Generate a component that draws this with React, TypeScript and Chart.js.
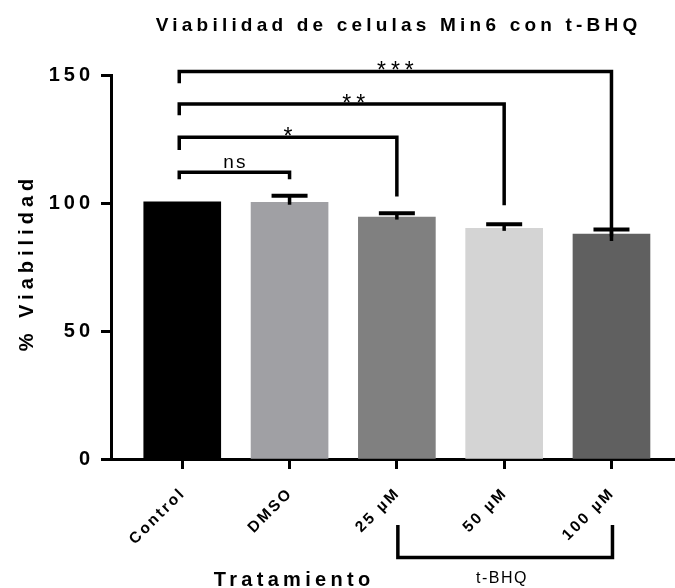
import React, { useEffect, useRef } from 'react';
import { Chart, registerables } from 'chart.js';

Chart.register(...registerables);

// ---------- data ----------
const categories = ['Control', 'DMSO', '25 µM', '50 µM', '100 µM'];
const viability = [100.5, 100.3, 94.5, 90.1, 87.9];
const viabilitySD = [0, 2.5, 1.5, 1.6, 1.7];
const yTicks = [0, 50, 100, 150];
const barColors = ['#000000', '#A0A0A4', '#808080', '#D4D4D4', '#606060'];

// significance comparisons (vs Control)
const compFrom = [0, 0, 0, 0];
const compTo = [1, 2, 3, 4];
const compLevel = [112.0, 125.7, 138.7, 151.4];
const compLeftEnd = [109.3, 120.7, 134.3, 146.8];
const compRightEnd = [109.3, 102.5, 99.1, 85.2];
const compLabel = ['ns', '*', '**', '***'];

// group bracket under the axis
const groupFrom = 2;
const groupTo = 4;
const groupLabel = 't-BHQ';

const titleText = 'Viabilidad de celulas Min6 con t-BHQ';
const yTitleText = '% Viabilidad';
const xTitleText = 'Tratamiento';

// ---------- styles ----------
const FONT = '"Liberation Sans", Arial, Helvetica, sans-serif';
const labelNudge = [0, 0, 12, 0];
const hasLS = typeof CanvasRenderingContext2D !== 'undefined' &&
  'letterSpacing' in CanvasRenderingContext2D.prototype;

function spacedText(ctx: any, text: string, x: number, y: number, spacing: number, align: 'left' | 'center' | 'right') {
  ctx.save();
  if (hasLS) ctx.letterSpacing = spacing + 'px';
  ctx.textAlign = 'left';
  const w = ctx.measureText(text).width - (hasLS ? spacing : 0);
  const sx = align === 'left' ? x : align === 'center' ? x - w / 2 : x - w;
  ctx.fillText(text, sx, y);
  ctx.restore();
}

const tickSpacingPlugin = {
  id: 'tickSpacing',
  beforeDraw(chart: any) {
    const specs: any = { x: 2.5, y: 4 };
    for (const id of ['x', 'y']) {
      const s: any = chart.scales[id];
      if (s && !s.__patched) {
        const orig = s.drawLabels;
        s.drawLabels = function (area: any) {
          const c: any = this.ctx;
          c.save();
          if (hasLS) c.letterSpacing = specs[id] + 'px';
          orig.call(this, area);
          c.restore();
        };
        s.__patched = true;
      }
    }
  },
};

const annotationPlugin = {
  id: 'annotations',
  afterDraw(chart: any) {
    const { ctx, chartArea } = chart;
    const xs = chart.scales.x;
    const ys = chart.scales.y;
    ctx.save();
    ctx.strokeStyle = '#000';
    ctx.fillStyle = '#000';
    ctx.lineCap = 'butt';
    ctx.lineJoin = 'miter';

    // error bars (upper)
    viability.forEach((v, i) => {
      const sd = viabilitySD[i];
      if (!sd) return;
      const px = xs.getPixelForValue(i);
      const top = ys.getPixelForValue(v + sd);
      const base = ys.getPixelForValue(v) + 2.5;
      ctx.lineWidth = 3.5;
      ctx.beginPath();
      ctx.moveTo(px, base);
      ctx.lineTo(px, top);
      ctx.stroke();
      ctx.lineWidth = 4;
      ctx.beginPath();
      ctx.moveTo(px - 18, top);
      ctx.lineTo(px + 18, top);
      ctx.stroke();
    });

    // significance brackets
    compLabel.forEach((lab, k) => {
      const lx = xs.getPixelForValue(compFrom[k]) - 3;
      const rx = xs.getPixelForValue(compTo[k]);
      const ly = ys.getPixelForValue(compLevel[k]);
      ctx.lineWidth = 3.5;
      ctx.beginPath();
      ctx.moveTo(lx, ys.getPixelForValue(compLeftEnd[k]));
      ctx.lineTo(lx, ly);
      ctx.lineTo(rx, ly);
      ctx.lineTo(rx, ys.getPixelForValue(compRightEnd[k]));
      ctx.stroke();

      const isStar = lab.indexOf('*') >= 0;
      ctx.font = `normal ${isStar ? 23 : 19}px ${FONT}`;
      ctx.textBaseline = 'alphabetic';
      const m = ctx.measureText(lab);
      const inkBottom = isStar ? ly - 1 : ly - 4;
      const baseline = inkBottom - m.actualBoundingBoxDescent;
      spacedText(ctx, lab, (lx + rx) / 2 + labelNudge[k], baseline, isStar ? 5 : 2, 'center');
    });

    // group bracket below axis
    const gx1 = xs.getPixelForValue(groupFrom) + 1;
    const gx2 = xs.getPixelForValue(groupTo) + 1;
    ctx.lineWidth = 3.5;
    ctx.beginPath();
    ctx.moveTo(gx1, 525);
    ctx.lineTo(gx1, 557.5);
    ctx.lineTo(gx2, 557.5);
    ctx.lineTo(gx2, 525);
    ctx.stroke();
    ctx.font = `normal 16px ${FONT}`;
    ctx.textBaseline = 'alphabetic';
    spacedText(ctx, groupLabel, (gx1 + gx2) / 2 - 4, 583, 1.5, 'center');

    // title
    ctx.font = `bold 19px ${FONT}`;
    spacedText(ctx, titleText, 396.5, 31, 4.2, 'center');

    // x title
    ctx.font = `bold 20px ${FONT}`;
    spacedText(ctx, xTitleText, 292, 586, 4.3, 'center');

    // y title
    ctx.save();
    ctx.translate(33.3, (chartArea.top + chartArea.bottom) / 2 - 2);
    ctx.rotate(-Math.PI / 2);
    ctx.font = `bold 20px ${FONT}`;
    spacedText(ctx, yTitleText, 0, 0, 5, 'center');
    ctx.restore();

    ctx.restore();
  },
};

export default function App() {
  const canvasRef = useRef<HTMLCanvasElement | null>(null);

  useEffect(() => {
    if (!canvasRef.current) return;
    const chart = new Chart(canvasRef.current, {
      type: 'bar',
      data: {
        datasets: [
          {
            label: '% Viabilidad',
            data: viability.map((v, i) => ({ x: i, y: v })),
            backgroundColor: barColors,
            borderWidth: 0,
            barThickness: 77,
          } as any,
        ],
      },
      options: {
        animation: false,
        responsive: false,
        layout: { padding: { top: 75, left: 0, right: 0, bottom: 0 } },
        plugins: {
          legend: { display: false },
          tooltip: { enabled: false },
          title: { display: false },
        },
        scales: {
          x: {
            type: 'linear',
            offset: false,
            min: -0.664,
            max: 4.592,
            afterBuildTicks: (scale: any) => {
              scale.ticks = categories.map((_, i) => ({ value: i }));
            },
            afterFit: (scale: any) => {
              scale.height = 129;
            },
            ticks: {
              autoSkip: false,
              minRotation: 45,
              maxRotation: 45,
              padding: 15,
              labelOffset: 1,
              color: '#000',
              font: { family: FONT, weight: 'bold', size: 15.5 },
              callback: (v: any) => categories[v] ?? '',
            },
            grid: {
              offset: false,
              drawOnChartArea: false,
              drawTicks: true,
              tickLength: 10,
              tickWidth: 3,
              color: '#000',
            },
            border: { display: true, color: '#000', width: 3 },
          } as any,
          y: {
            type: 'linear',
            min: 0,
            max: 150,
            afterBuildTicks: (scale: any) => {
              scale.ticks = yTicks.map((v) => ({ value: v }));
            },
            afterFit: (scale: any) => {
              scale.width = 111;
            },
            ticks: {
              padding: 7,
              color: '#000',
              font: { family: FONT, weight: 'bold', size: 20 },
            },
            grid: {
              drawOnChartArea: false,
              drawTicks: true,
              tickLength: 10,
              tickWidth: 3,
              color: '#000',
            },
            border: { display: true, color: '#000', width: 3 },
          } as any,
        },
      },
      plugins: [tickSpacingPlugin, annotationPlugin],
    });
    return () => chart.destroy();
  }, []);

  return (
    <div style={{ position: 'fixed', left: 0, top: 0, width: 675, height: 588, background: '#fff' }}>
      <canvas ref={canvasRef} width={675} height={588} style={{ display: 'block' }} />
    </div>
  );
}
